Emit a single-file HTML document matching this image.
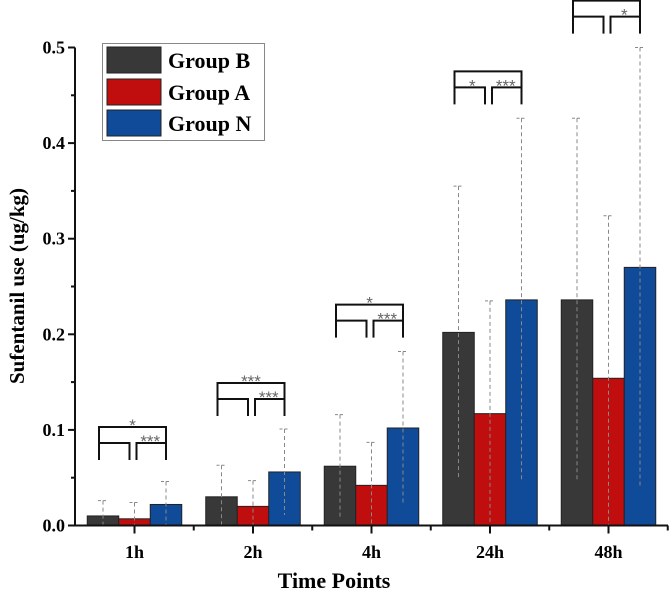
<!DOCTYPE html>
<html><head><meta charset="utf-8"><style>
body{margin:0;background:#fff}
svg{display:block;font-family:"Liberation Serif",serif}
</style></head><body>
<svg id="c" width="669" height="596"></svg>
<script>
const categories=["1h","2h","4h","24h","48h"];
const groups=["Group B","Group A","Group N"];
const colors=["#383838","#c00e0e","#0f4b99"];
const meanB=[0.010,0.030,0.062,0.202,0.236];
const meanA=[0.007,0.020,0.042,0.117,0.154];
const meanN=[0.022,0.056,0.102,0.236,0.270];
const upB=[0.026,0.063,0.116,0.355,0.426];
const upA=[0.024,0.047,0.087,0.235,0.324];
const upN=[0.046,0.101,0.182,0.426,0.500];
const loB=[0.0,0.0,0.008,0.050,0.046];
const loA=[0.0,0.0,0.0,0.0,0.0];
const loN=[0.0,0.011,0.023,0.047,0.040];
const bracketLevel=[0.103,0.149,0.231,0.475,0.549];
const yTicks=[0,0.1,0.2,0.3,0.4,0.5];
const yTickLabels=["0.0","0.1","0.2","0.3","0.4","0.5"];
const sigOuter=["*","***","*","",""];
const sigRight=["***","***","***","***","*"];
const sigLeft=["","","","*",""];
const means=[meanB,meanA,meanN],ups=[upB,upA,upN],los=[loB,loA,loN];
const NS="http://www.w3.org/2000/svg",svg=document.getElementById("c");
const X0=75,X1=668,Y0=525.5,Ytop=47.5;
const y=v=>Y0-(v/0.5)*(Y0-Ytop);
const xc=i=>134.5+i*118.5;
const BW=31.5;
function el(t,a,p){const e=document.createElementNS(NS,t);for(const k in a)e.setAttribute(k,a[k]);(p||svg).appendChild(e);return e;}
categories.forEach((c,i)=>{
 for(let g=0;g<3;g++){
  const x=xc(i)+(g-1.5)*BW;
  const r=el("rect",{x:x,y:y(means[g][i]),width:BW,height:Y0-y(means[g][i]),fill:colors[g],stroke:"#222","stroke-width":1});
  
  
  const cx=x+BW/2;
  const e=el("line",{x1:cx,x2:cx,y1:y(ups[g][i]),y2:y(los[g][i]),stroke:"#888","stroke-width":1,"stroke-dasharray":"4,3"});
  
  
  el("line",{x1:cx-5,x2:cx+5,y1:y(ups[g][i]),y2:y(ups[g][i]),stroke:"#888","stroke-width":1,"stroke-dasharray":"3,2"});
 }
 const yo=y(bracketLevel[i]), yi=yo+16, yl=yo+33;
 const xb=xc(i)-BW-4, xa=xc(i), xn=xc(i)+BW;
 const st={stroke:"#111","stroke-width":2,fill:"none"};
 const b=el("path",Object.assign({d:`M${xb},${yl}V${yo}H${xn}V${yl}M${xb},${yi}H${xa-5}V${yl}M${xa+2},${yl}V${yi}H${xn}`},st));
 
 
 const tx={fill:"#666","font-size":"17","font-family":"Liberation Sans, sans-serif"};
 if(sigOuter[i])el("text",Object.assign({x:(xb+xn)/2,y:yo+4,"text-anchor":"middle"},tx)).textContent=sigOuter[i];
 if(sigRight[i])el("text",Object.assign({x:(xa+xn)/2,y:yi+4,"text-anchor":"middle"},tx)).textContent=sigRight[i];
 if(sigLeft[i])el("text",Object.assign({x:(xb+xa)/2,y:yi+4,"text-anchor":"middle"},tx)).textContent=sigLeft[i];
 el("line",{x1:xc(i),x2:xc(i),y1:Y0,y2:Y0+8,stroke:"#111","stroke-width":2});
 el("line",{x1:xc(i)+59.25,x2:xc(i)+59.25,y1:Y0,y2:Y0+5,stroke:"#111","stroke-width":2});
 const t=el("text",{x:xc(i),y:558,"text-anchor":"middle","font-size":"18","font-weight":"bold"});
 t.textContent=c;
 
 
});
el("line",{x1:X0,x2:X1,y1:Y0,y2:Y0,stroke:"#111","stroke-width":2});
el("line",{x1:X0,x2:X0,y1:Y0+1,y2:Ytop,stroke:"#111","stroke-width":2});
yTicks.forEach((v,k)=>{
 el("line",{x1:X0-7,x2:X0,y1:y(v),y2:y(v),stroke:"#111","stroke-width":2});
 if(k<5)el("line",{x1:X0-4,x2:X0,y1:y(v+0.05),y2:y(v+0.05),stroke:"#111","stroke-width":2});
 const t=el("text",{x:X0-10,y:y(v)+6,"text-anchor":"end","font-size":"18","font-weight":"bold"});
 t.textContent=yTickLabels[k];
 
 
});
</script>
<svg style="position:absolute;left:0;top:0" width="669" height="596">
<text x="334" y="588" text-anchor="middle" font-size="22" font-weight="bold" font-family="Liberation Serif, serif">Time Points</text>
<text transform="translate(24,286) rotate(-90)" text-anchor="middle" font-size="21" font-weight="bold" font-family="Liberation Serif, serif">Sufentanil use (ug/kg)</text>
<g font-family="Liberation Serif, serif" font-size="22" font-weight="bold">
<rect x="102.5" y="43.5" width="162" height="97" fill="#fff" stroke="#888"/>
<rect x="107" y="47" width="54" height="26" fill="#383838" stroke="#222"/>
<text x="168" y="68">Group B</text>
<rect x="107" y="79" width="54" height="26" fill="#c00e0e" stroke="#222"/>
<text x="168" y="100">Group A</text>
<rect x="107" y="110" width="54" height="26" fill="#0f4b99" stroke="#222"/>
<text x="168" y="131">Group N</text>
</g>
</svg>
</body></html>
